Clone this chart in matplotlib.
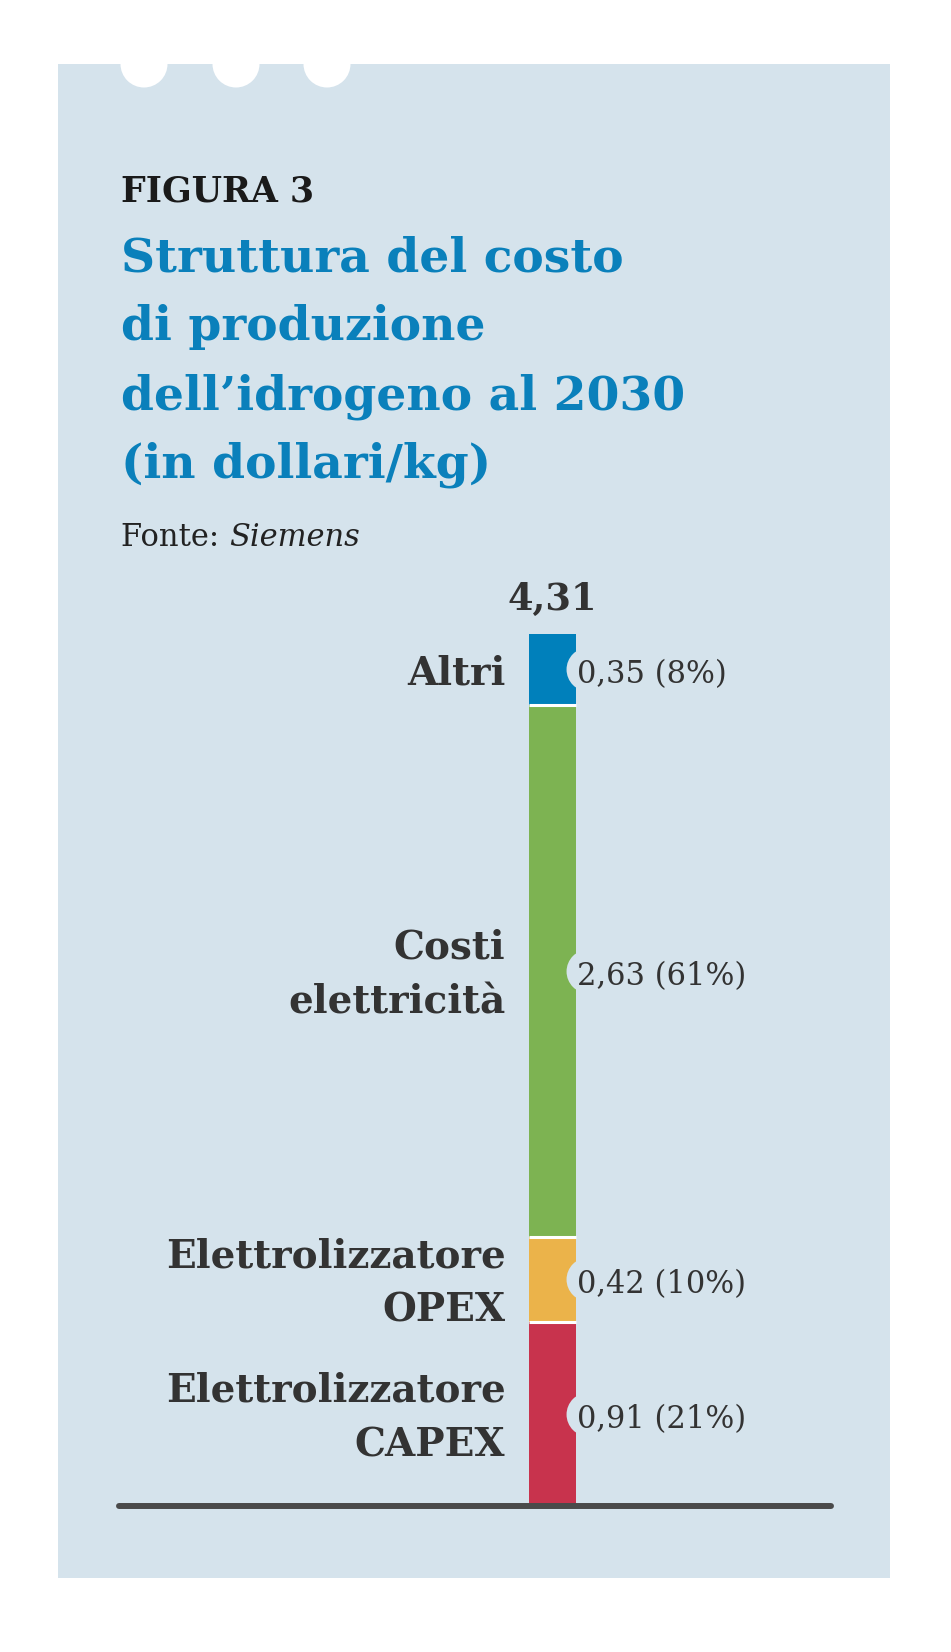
import matplotlib.pyplot as plt
from matplotlib.patches import Rectangle, Circle

# data, bottom to top of the stacked bar
categories = ['Elettrolizzatore\nCAPEX', 'Elettrolizzatore\nOPEX', 'Costi\nelettricità', 'Altri']
values = [0.91, 0.42, 2.63, 0.35]
shares = [21, 10, 61, 8]
colors = ['#c8334d', '#ebb34a', '#7db352', '#0080bb']
total = 4.31

title_lines = ['Struttura del costo', 'di produzione', 'dell’idrogeno al 2030', '(in dollari/kg)']

bg_col = '#d5e3ec'
txt_col = '#333333'
blue_col = '#0a80bb'
W, H = 951, 1652

plt.rcParams['font.family'] = ['DejaVu Serif']
fig = plt.figure(figsize=(W / 100, H / 100), dpi=100)

# background / decoration in pixel coordinates
bg = fig.add_axes([0, 0, 1, 1])
bg.set_xlim(0, W)
bg.set_ylim(H, 0)
bg.axis('off')
bg.add_patch(Rectangle((58, 64), 890 - 58, 1578 - 64, color=bg_col, lw=0))
for cx in [144, 236, 327]:
    bg.add_patch(Circle((cx, 64), 23.5, color='white', lw=0))

bg.text(121, 202, 'FIGURA 3', fontsize=25, fontweight='bold', color='#1a1a1a', va='baseline')
for i, line in enumerate(title_lines):
    bg.text(121, 272 + i * 68.5, line, fontsize=34, fontweight='bold', color=blue_col, va='baseline')
t1 = bg.text(121, 546, 'Fonte: ', fontsize=22, color='#222222', va='baseline')
bg.annotate('Siemens', xy=(1, 0), xycoords=t1, fontsize=22, style='italic',
            color='#222222', va='bottom', ha='left')

# bar chart
left, right, top, bottom = 119, 831, 634, 1506
ax = fig.add_axes([left / W, (H - bottom) / H, (right - left) / W, (bottom - top) / H])
ax.patch.set_alpha(0)
ax.axis('off')
bar_w = 1.0
px_per_unit = 47.0
x0 = -(552.5 - left) / px_per_unit
ax.set_xlim(x0, x0 + (right - left) / px_per_unit)
ax.set_ylim(0, total)

base = 0
for cat, v, p, c in zip(categories, values, shares, colors):
    ax.bar(0, v, bottom=base, width=bar_w, color=c, lw=0, zorder=2)
    mid = base + v / 2
    ax.scatter([0.5 + 12 / px_per_unit], [mid], s=1000, color=bg_col, lw=0, zorder=3)
    ax.annotate(f'{v:.2f}'.replace('.', ',') + f' ({p}%)', xy=(0.5, mid), xytext=(1, -4),
                textcoords='offset points', fontsize=22, color=txt_col,
                ha='left', va='center', zorder=4)
    ax.annotate(cat, xy=(-0.5, mid), xytext=(-17, -3), textcoords='offset points',
                fontsize=28, fontweight='bold', color=txt_col, ha='right', va='center',
                multialignment='right', linespacing=1.55)
    base += v
    if base < total - 1e-9:
        ax.hlines(base, -0.5, 0.5, color='white', lw=2.2, zorder=3)

ax.annotate(f'{total:.2f}'.replace('.', ','), xy=(0, total), xytext=(0, 17),
            textcoords='offset points', fontsize=26.5, fontweight='bold', color=txt_col,
            ha='center', va='baseline')

ax.plot([x0, x0 + (right - left) / px_per_unit], [0, 0], color='#4a4a4a', lw=4.3,
        solid_capstyle='round', clip_on=False, zorder=5)

fig.savefig('out.png', dpi=100)
